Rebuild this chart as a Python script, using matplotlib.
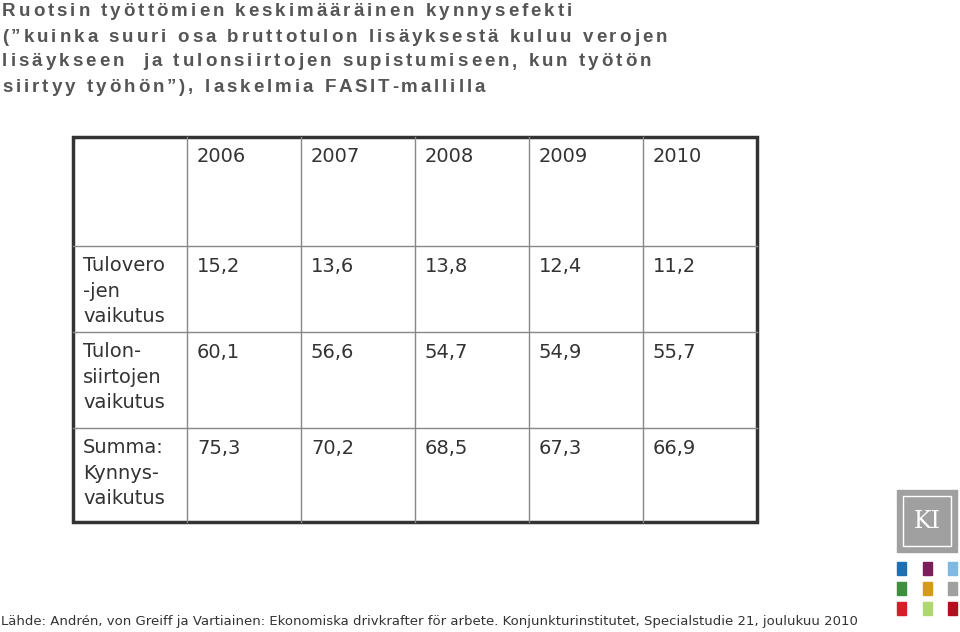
import matplotlib
matplotlib.use("Agg")
import matplotlib.pyplot as plt
from matplotlib.patches import Rectangle
from matplotlib.font_manager import FontProperties

title_lines = ["Ruotsin työttömien keskimääräinen kynnysefekti",
               "(”kuinka suuri osa bruttotulon lisäyksestä kuluu verojen",
               "lisäykseen  ja tulonsiirtojen supistumiseen, kun työtön",
               "siirtyy työhön”), laskelmia FASIT-mallilla"]
years = ["2006", "2007", "2008", "2009", "2010"]
row_labels = ["Tulovero\n-jen\nvaikutus", "Tulon-\nsiirtojen\nvaikutus", "Summa:\nKynnys-\nvaikutus"]
tulovero = ["15,2", "13,6", "13,8", "12,4", "11,2"]
tulonsiirrot = ["60,1", "56,6", "54,7", "54,9", "55,7"]
summa = ["75,3", "70,2", "68,5", "67,3", "66,9"]
source = "Lähde: Andrén, von Greiff ja Vartiainen: Ekonomiska drivkrafter för arbete. Konjunkturinstitutet, Specialstudie 21, joulukuu 2010"

fig = plt.figure(figsize=(9.6, 6.32), dpi=100)
ax = fig.add_axes([0, 0, 1, 1])
ax.set_xlim(0, 960); ax.set_ylim(632, 0); ax.axis("off")
renderer = fig.canvas.get_renderer()

fp = FontProperties(family="Liberation Sans", weight="bold", size=13.5)
def width(s):
    return (renderer.get_text_width_height_descent("x" + s + "x", fp, ismath=False)[0]
            - renderer.get_text_width_height_descent("xx", fp, ismath=False)[0])

for i, t in enumerate(title_lines):
    for k, ch in enumerate(t):
        if ch == " ":
            continue
        x = 2 + width(t[:k]) + 3.0 * k
        ax.text(x, 12 + i * 25, ch, fontproperties=fp, color="#555555", va="center", ha="left")

xs = [73, 187, 301, 415, 529, 643, 757]
ys = [137, 246, 332, 428, 522]
for x in xs[1:-1]:
    ax.plot([x, x], [ys[0], ys[-1]], color="#888888", lw=1)
for y in ys[1:-1]:
    ax.plot([xs[0], xs[-1]], [y, y], color="#888888", lw=1)
ax.add_patch(Rectangle((xs[0], ys[0]), xs[-1] - xs[0], ys[-1] - ys[0], fill=False, ec="#333333", lw=2.5))

tf = dict(fontsize=14, color="#333333", family="DejaVu Sans", va="center", ha="left")
for j, yr in enumerate(years):
    ax.text(xs[j + 1] + 10, 156, yr, **tf)
for r, vals in enumerate([tulovero, tulonsiirrot, summa]):
    ax.text(83, ys[r + 1] + 10, row_labels[r], fontsize=14, color="#333333", va="top", ha="left",
            linespacing=1.45)
    for j, v in enumerate(vals):
        ax.text(xs[j + 1] + 10, ys[r + 1] + 20, v, **tf)

ax.text(1, 622, source, fontsize=9.5, color="#333333", va="center", ha="left")

ax.add_patch(Rectangle((897, 490), 60, 62, color="#a0a0a0"))
ax.add_patch(Rectangle((903, 496), 48, 50, fill=False, ec="white", lw=1))
ax.text(927, 521, "KI", fontsize=17, color="white", family="DejaVu Serif", ha="center", va="center")
cols = [["#1f6fb5", "#7a1f5a", "#7fb8e0"], ["#3f8f3f", "#d49a1a", "#a0a0a0"], ["#d0202a", "#b0d870", "#b01020"]]
for r in range(3):
    for c in range(3):
        ax.add_patch(Rectangle((897 + c * 25.5, 562 + r * 20), 9, 13, color=cols[r][c]))

fig.savefig("out.png", dpi=100)
